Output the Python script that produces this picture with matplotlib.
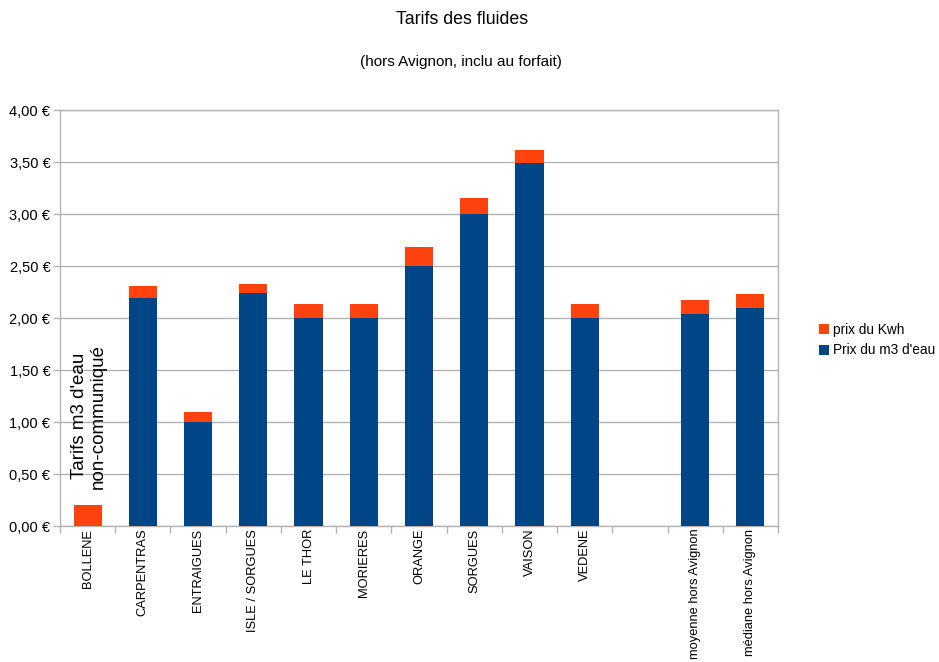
import matplotlib
matplotlib.use("Agg")
import matplotlib.pyplot as plt
import numpy as np
from matplotlib.ticker import FuncFormatter, FixedLocator

plt.rcParams['font.family'] = ['Liberation Sans', 'DejaVu Sans']

categories = ["BOLLENE", "CARPENTRAS", "ENTRAIGUES", "ISLE / SORGUES", "LE THOR",
              "MORIERES", "ORANGE", "SORGUES", "VAISON", "VEDENE", "",
              "moyenne hors Avignon", "médiane hors Avignon"]
prix_m3 = [0.0, 2.19, 1.00, 2.24, 2.00, 2.00, 2.50, 3.00, 3.49, 2.00, 0.0, 2.04, 2.10]
prix_kwh = [0.20, 0.115, 0.095, 0.087, 0.133, 0.133, 0.183, 0.154, 0.122, 0.133, 0.0, 0.135, 0.134]

blue = "#004586"
orange = "#ff420e"
grid_c = "#b3b3b3"

fig = plt.figure(figsize=(9.39, 6.62), dpi=100)
ax = fig.add_axes([60/939, 1-526/662, 718/939, 416/662])

x = np.arange(len(categories))
w = 0.51
ax.bar(x, prix_m3, w, color=blue, label="Prix du m3 d'eau", zorder=3)
ax.bar(x, prix_kwh, w, bottom=prix_m3, color=orange, label="prix du Kwh", zorder=3)

ax.set_xlim(-0.5, len(categories) - 0.5)
ax.set_ylim(0, 4)
ax.set_yticks(np.arange(0, 4.01, 0.5))
ax.yaxis.set_major_formatter(FuncFormatter(lambda v, p: f"{v:.2f}".replace('.', ',') + " €"))
ax.grid(axis='y', color=grid_c, linewidth=1, zorder=0)
ax.set_axisbelow(True)

ax.set_xticks(x)
ax.set_xticklabels(categories, rotation=90, fontsize=9.3, va='top')
ax.tick_params(axis='x', which='major', length=0, pad=2)
ax.xaxis.set_minor_locator(FixedLocator(np.arange(-0.5, len(categories), 1.0)))
ax.tick_params(axis='x', which='minor', length=5, color=grid_c, width=1)
ax.tick_params(axis='y', length=5, color=grid_c, width=1, labelsize=10.5, pad=2)

for s in ax.spines.values():
    s.set_color(grid_c)
    s.set_linewidth(1)

ax.text(0.03, 0.36, "Tarifs m3 d'eau\nnon-communiqué", rotation=90, ha='center', va='bottom',
        fontsize=13.5, linespacing=1.15, zorder=4)

fig.text(462/939, 1 - 19/662, "Tarifs des fluides", ha='center', va='center', fontsize=12.8)
fig.text(461/939, 1 - 62/662, "(hors Avignon, inclu au forfait)", ha='center', va='center', fontsize=11)

handles, labels = ax.get_legend_handles_labels()
leg = fig.legend(handles[::-1], labels[::-1], loc='center left', bbox_to_anchor=(819/939, 1 - 340/662),
                 frameon=False, fontsize=9.8, handlelength=0.75, handleheight=0.75,
                 handletextpad=0.3, labelspacing=0.5, borderaxespad=0, borderpad=0)

fig.savefig("out.png", dpi=100)
